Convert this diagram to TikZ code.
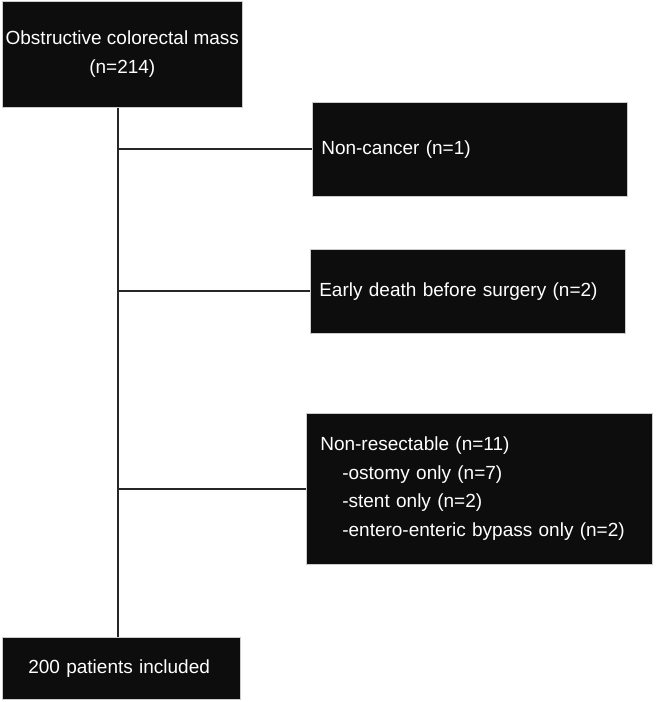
\documentclass[tikz,border=0pt]{standalone}
\usepackage{fontspec}
\setmainfont{Liberation Sans}
\usepackage{tikz}
\usetikzlibrary{positioning}

\begin{document}
\begin{tikzpicture}[x=1pt, y=-1pt,
    every node/.style={font=\fontsize{19}{28.5}\selectfont},
    darkbox/.style={rectangle, fill=black!95, draw=black!20, line width=0.6pt,
        text=white, anchor=north west, inner ysep=0pt},
    link/.style={draw=black!85, line width=1.7pt}]
    \useasboundingbox (0,0) rectangle (657,702);
    % start and end of the flow
    \node[darkbox, minimum width=235pt, minimum height=106pt, align=center]
        (mass) at (2,1) {Obstructive colorectal mass\\(n=214)};
    \node[darkbox, minimum width=238pt, minimum height=62pt, inner xsep=26pt,
        text width=186pt, align=left]
        (included) at (2,637) {200 patients included};
    % excluded patients
    \node[darkbox, minimum height=94pt, inner xsep=9pt, text width=297pt, align=left]
        (noncancer) at (312,102) {Non-cancer (n=1)};
    \node[darkbox, minimum height=84pt, inner xsep=9pt, text width=297pt, align=left]
        (death) at (310,249) {Early death before surgery (n=2)};
    \node[darkbox, minimum height=151pt, inner xsep=14pt, text width=318pt, align=left]
        (nonresect) at (306,413) {Non-resectable (n=11)\\
        \hspace*{22pt}-ostomy only (n=7)\\
        \hspace*{22pt}-stent only (n=2)\\
        \hspace*{22pt}-entero-enteric bypass only (n=2)};
    % connectors
    \draw[link] (mass.south -| 118,0) -- (included.north -| 118,0);
    \foreach \b in {noncancer, death, nonresect} {
        \draw[link] (\b.west -| 118,0) -- (\b.west);
    }
\end{tikzpicture}
\end{document}
